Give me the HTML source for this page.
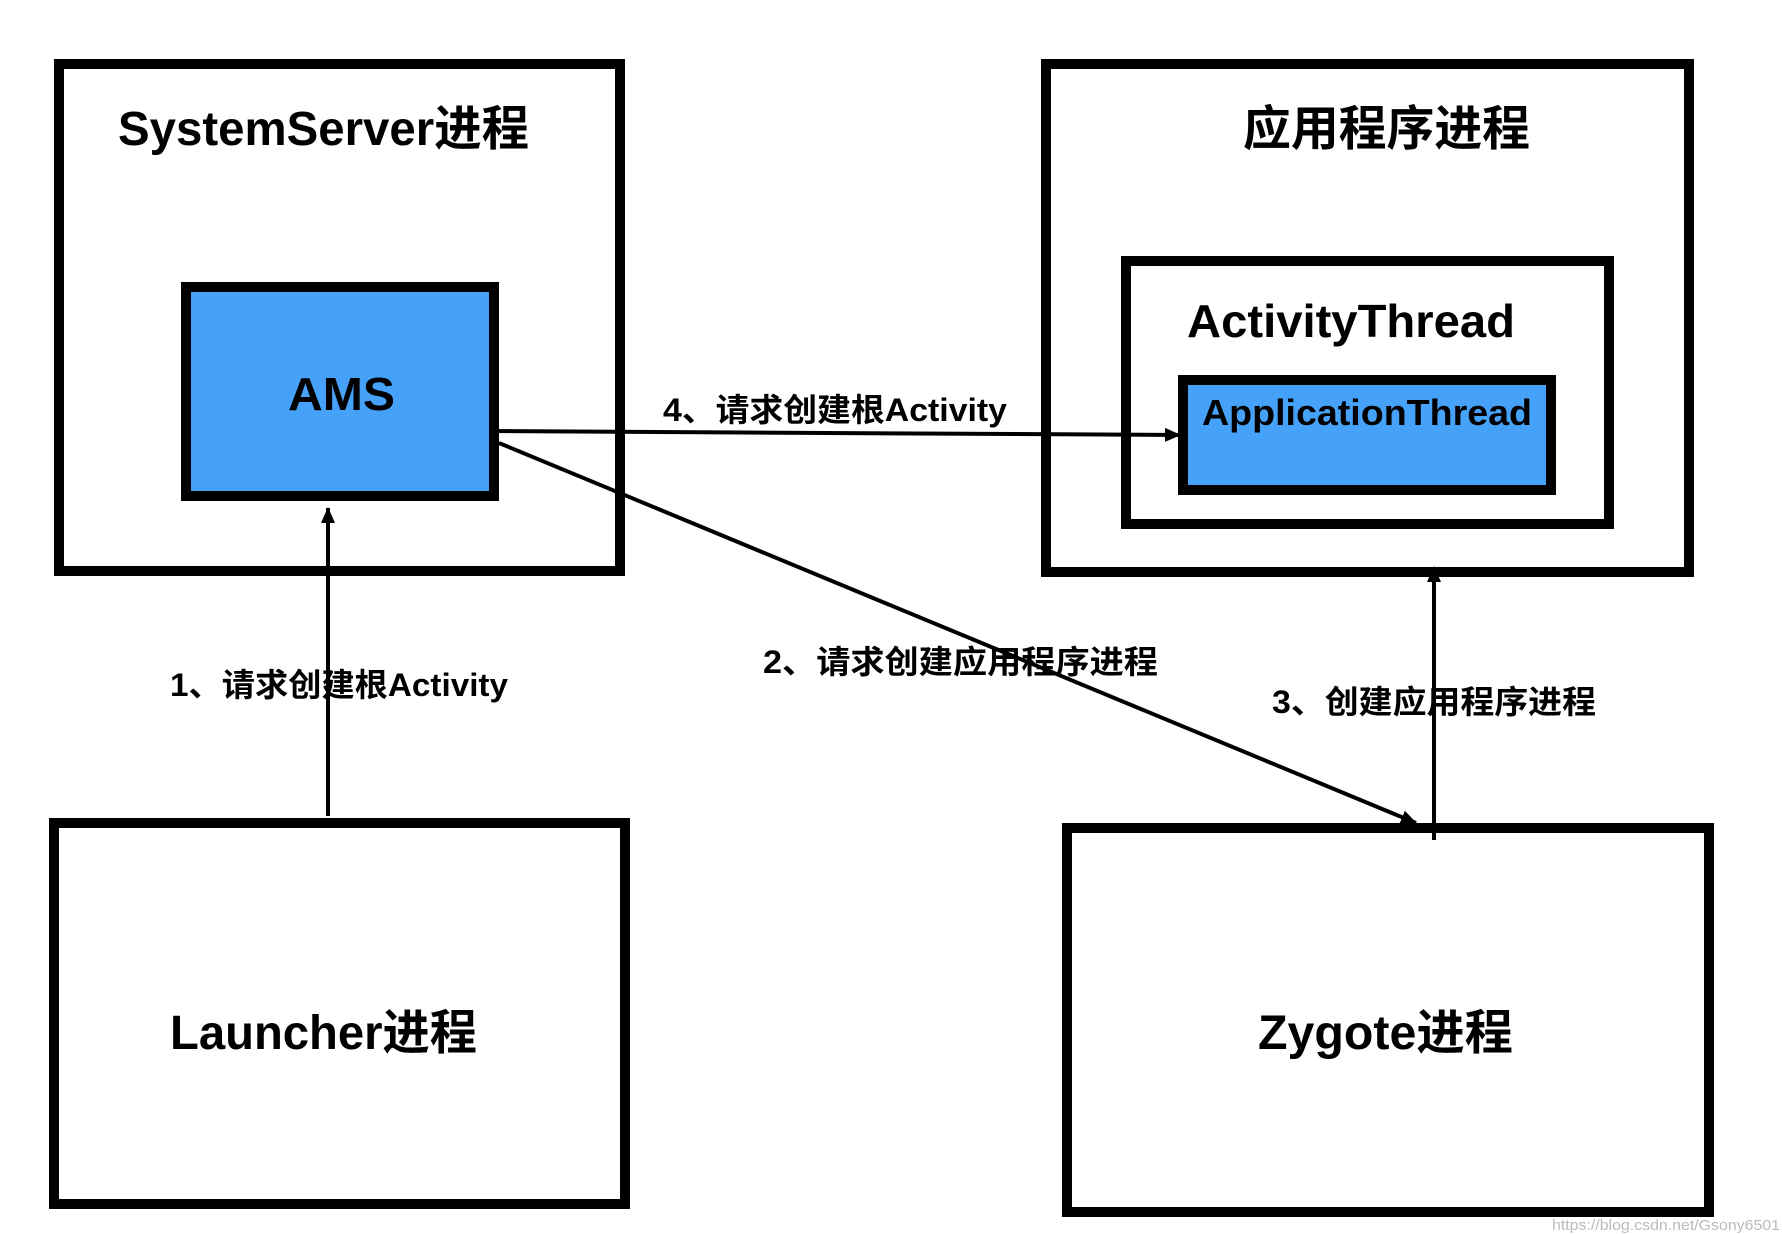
<!DOCTYPE html>
<html><head><meta charset="utf-8"><style>html,body{margin:0;padding:0;background:#fff}svg{display:block}</style></head><body>
<svg width="1782" height="1234" viewBox="0 0 1782 1234" xmlns="http://www.w3.org/2000/svg" font-family="'Liberation Sans','Noto Sans CJK SC',sans-serif" font-weight="bold">
<defs>
<marker id="b" markerWidth="16" markerHeight="16" refX="15" refY="8" orient="auto" markerUnits="userSpaceOnUse"><path d="M0,1 L16,8 L0,15 z" fill="#000"/></marker></defs>
<g fill="none" stroke="#000" stroke-width="10">
<rect x="59" y="64" width="561" height="507" fill="#fff"/>
<rect x="1046" y="64" width="643" height="508" fill="#fff"/>
<rect x="1067" y="828" width="642" height="384" fill="#fff"/>
<rect x="54" y="823" width="571" height="381" fill="#fff"/>
<rect x="186" y="287" width="308" height="209" fill="#46A2F8"/>
<rect x="1126" y="261" width="483" height="263" fill="#fff"/>
<rect x="1183" y="380" width="368" height="110" fill="#46A2F8"/>
</g>
<g stroke="#000" stroke-width="4">
<line x1="328" y1="816" x2="328" y2="508" marker-end="url(#b)"/>
<line x1="489" y1="431" x2="1180" y2="435" marker-end="url(#b)"/>
<line x1="499" y1="443" x2="1416" y2="823" marker-end="url(#b)"/>
<line x1="1434" y1="840" x2="1434" y2="567" marker-end="url(#b)"/>
</g>
<g fill="#000">
<text x="118" y="145" font-size="48" textLength="411" lengthAdjust="spacingAndGlyphs">SystemServer进程</text>
<text x="1243" y="145" font-size="48" textLength="287" lengthAdjust="spacingAndGlyphs">应用程序进程</text>
<text x="288" y="410" font-size="46" textLength="107" lengthAdjust="spacingAndGlyphs">AMS</text>
<text x="1187" y="337" font-size="46" textLength="328" lengthAdjust="spacingAndGlyphs">ActivityThread</text>
<text x="1202" y="425" font-size="36" textLength="330" lengthAdjust="spacingAndGlyphs">ApplicationThread</text>
<text x="170" y="1049" font-size="48" textLength="307" lengthAdjust="spacingAndGlyphs">Launcher进程</text>
<text x="1258" y="1049" font-size="48" textLength="255" lengthAdjust="spacingAndGlyphs">Zygote进程</text>
<text x="170" y="696" font-size="32" textLength="338" lengthAdjust="spacingAndGlyphs">1、请求创建根Activity</text>
<text x="663" y="421" font-size="32" textLength="344" lengthAdjust="spacingAndGlyphs">4、请求创建根Activity</text>
<text x="763" y="673" font-size="32" textLength="395" lengthAdjust="spacingAndGlyphs">2、请求创建应用程序进程</text>
<text x="1272" y="713" font-size="32" textLength="324" lengthAdjust="spacingAndGlyphs">3、创建应用程序进程</text>
</g>
<text x="1552" y="1230" font-size="15" font-weight="normal" fill="#bbb" textLength="228" lengthAdjust="spacingAndGlyphs">https://blog.csdn.net/Gsony6501</text>
</svg>
</body></html>
